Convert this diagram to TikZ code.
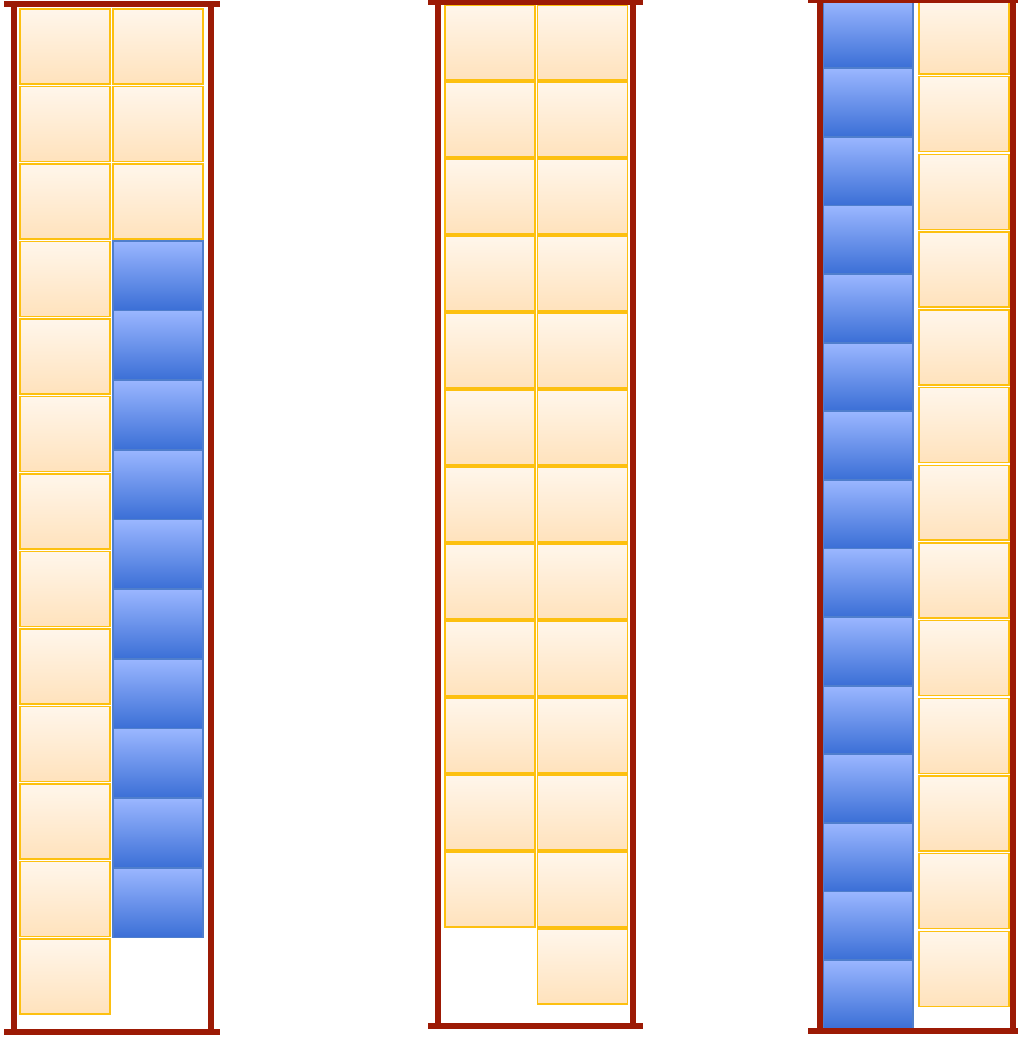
\documentclass[tikz,border=0pt]{standalone}
\definecolor{wallred}{HTML}{9C1A05}
\definecolor{gold}{HTML}{FDC010}
\definecolor{otop}{HTML}{FFF6EB}
\definecolor{obot}{HTML}{FFE2BC}
\definecolor{bedge}{HTML}{4F7ECC}
\definecolor{btop}{HTML}{9AB6FF}
\definecolor{bbot}{HTML}{3B6FD6}
\begin{document}
\begin{tikzpicture}[x=0.75pt,y=-0.75pt,
    wall/.style={draw=wallred,line width=3.8pt},
    obox/.style={draw=gold,line width=1.1pt,top color=otop,bottom color=obot,
        minimum width=67.5pt,minimum height=56.2pt,inner sep=0pt,outer sep=0pt},
    bbox/.style={draw=bedge,line width=0.8pt,top color=btop,bottom color=bbot,
        minimum width=67.5pt,inner sep=0pt,outer sep=0pt}]
    \useasboundingbox (0,0) rectangle (1018,1039);

    % first stack
    \foreach \i in {0,...,12}
        \node[obox] (a\i) at (65,46.5+77.5*\i) {};
    \foreach \i in {0,1,2}
        \node[obox] (b\i) at (158,46.5+77.5*\i) {};
    \foreach \j in {0,...,9}
        \node[bbox,minimum height=51.8pt] (c\j) at (158,275.5+69.7*\j) {};
    \coordinate (p1tl) at (14,4);
    \coordinate (p1tr) at (211,4);
    \coordinate (p1bl) at (14,1032);
    \coordinate (p1br) at (211,1032);
    \draw[wall] (4,4) -- (220,4);
    \draw[wall] (4,1032) -- (220,1032);
    \draw[wall] (p1tl) -- (p1bl);
    \draw[wall] (p1tr) -- (p1br);

    % second stack
    \foreach \i in {0,...,11}
        \node[obox] (d\i) at (490,42.5+77*\i) {};
    \foreach \i in {0,...,12}
        \node[obox] (e\i) at (582.5,42.5+77*\i) {};
    \coordinate (p2tl) at (438,2);
    \coordinate (p2tr) at (633,2);
    \coordinate (p2bl) at (438,1026);
    \coordinate (p2br) at (633,1026);
    \draw[wall] (428,2) -- (643,2);
    \draw[wall] (428,1026) -- (643,1026);
    \draw[wall] (p2tl) -- (p2bl);
    \draw[wall] (p2tr) -- (p2br);

    % third stack
    \foreach \j in {0,...,14}
        \node[bbox,minimum height=50.8pt] (f\j) at (868,34+68.6*\j) {};
    \foreach \i in {0,...,12}
        \node[obox] (g\i) at (964,36.5+77.7*\i) {};
    \coordinate (p3tl) at (820,0);
    \coordinate (p3tr) at (1013,0);
    \coordinate (p3bl) at (820,1031);
    \coordinate (p3br) at (1013,1031);
    \draw[wall] (808,0) -- (1018,0);
    \draw[wall] (808,1031) -- (1018,1031);
    \draw[wall] (p3tl) -- (p3bl);
    \draw[wall] (p3tr) -- (p3br);
\end{tikzpicture}
\end{document}
